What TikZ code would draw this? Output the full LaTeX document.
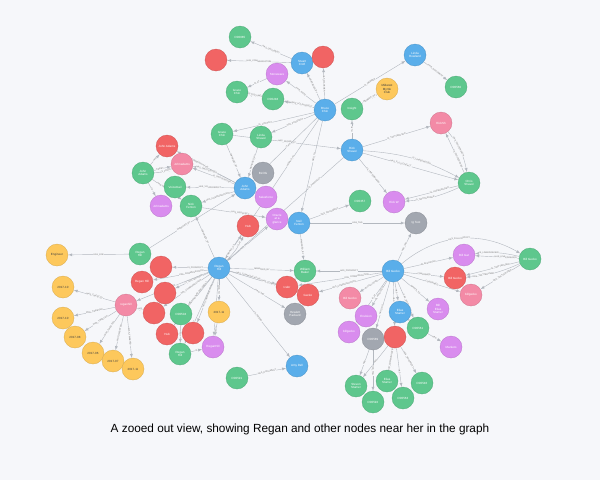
\documentclass[tikz,border=0pt]{standalone}
\usepackage{fontspec}
\setmainfont{Liberation Sans}
\usepackage{tikz}
\usetikzlibrary{positioning,arrows,backgrounds}
\definecolor{cbg}{HTML}{F6F7FA}
\definecolor{cedge}{HTML}{B3B8BF}
\definecolor{cblue}{HTML}{5AAEEA}
\definecolor{cgreen}{HTML}{5EC78D}
\definecolor{cred}{HTML}{F16464}
\definecolor{cpurple}{HTML}{D98CEE}
\definecolor{cpink}{HTML}{F38AA6}
\definecolor{cyellow}{HTML}{FDC85C}
\definecolor{cgray}{HTML}{A2A7B0}
\pgfdeclarelayer{back}
\pgfdeclarelayer{edges}
\pgfsetlayers{back,edges,main}
\begin{document}
\begin{tikzpicture}[x=1pt, y=-1pt,
  nd/.style={circle, minimum size=22pt, inner sep=0pt, align=center, text=white, line width=0.3pt, font=\fontsize{3}{3.4}\selectfont},
  nblue/.style={nd, fill=cblue, draw=cblue!85!black},
  ngreen/.style={nd, fill=cgreen, draw=cgreen!85!black},
  nred/.style={nd, fill=cred, draw=cred!85!black},
  npurple/.style={nd, fill=cpurple, draw=cpurple!85!black},
  npink/.style={nd, fill=cpink, draw=cpink!85!black},
  nyellow/.style={nd, fill=cyellow, draw=cyellow!85!black, text=black!75},
  ngray/.style={nd, fill=cgray, draw=cgray!85!black},
  ed/.style={draw=cedge, line width=0.4pt, -latex},
  lb/.style={midway, sloped, fill=cbg, inner sep=0.3pt, text=black!55, font=\fontsize{2.2}{2.5}\selectfont}]
\begin{pgfonlayer}{back}
\fill[cbg] (0,0) rectangle (600,480);
\end{pgfonlayer}
\useasboundingbox (0,0) rectangle (600,480);

\node[nblue] (bruce) at (325,110) {Bruce\\Chin};
\node[nblue] (stuart) at (302,63) {Stuart\\Croft};
\node[nblue] (linda) at (415,55) {Linda\\Rowland};
\node[nblue] (rick) at (352,150) {Rick\\Shavel};
\node[nblue] (john) at (245,188) {John\\Adams};
\node[nblue] (neil) at (299,223) {Neil\\Fenton};
\node[nblue] (regan) at (219,268) {Regan\\Hill};
\node[nblue] (bill) at (393,271) {Bill Gecko};
\node[nblue] (elias) at (400,312) {Elias\\Stamer};
\node[nblue] (amy) at (297,366) {Amy Dell};

\node[ngreen] (d1) at (240,37) {D00085};
\node[ngreen] (grace) at (237,92) {Grace\\Chin};
\node[ngreen] (d2) at (273,99) {D00248};
\node[ngreen] (grace2) at (222,134) {Grace\\Chin};
\node[ngreen] (linda2) at (261,137) {Linda\\Shavel};
\node[ngreen] (insight) at (352,109) {Insight};
\node[ngreen] (d3) at (456,87) {D00560};
\node[ngreen] (chris) at (469,183) {Chris\\Shavel};
\node[ngreen] (d4) at (360,201) {D00357};
\node[ngreen] (johna) at (143,173) {John\\Adams};
\node[ngreen] (voice) at (175,187) {Voicemail};
\node[ngreen] (nick) at (191,206) {Nick\\Fenton};
\node[ngreen] (reganh) at (140,254) {Regan\\Hill};
\node[ngreen] (d5) at (181,314) {D00504};
\node[ngreen] (regank) at (180,354) {Regan\\Hill};
\node[ngreen] (d6) at (237,378) {D00591};
\node[ngreen] (william) at (305,271) {William\\Baker};
\node[ngreen] (bill2) at (530,259) {Bill Gecko};
\node[ngreen] (d7) at (418,328) {D00561};
\node[ngreen] (steven) at (356,386) {Steven\\Stamer};
\node[ngreen] (elias2) at (387,381) {Elias\\Stamer};
\node[ngreen] (d8) at (422,383) {D00546};
\node[ngreen] (d9) at (373,402) {D00592};
\node[ngreen] (d10) at (403,398) {D00563};

\node[nred] (r1) at (216,60) {};
\node[nred] (r2) at (323,57) {};
\node[nred] (r3) at (167,146) {John Adams};
\node[nred] (r4) at (248,226) {Hub};
\node[nred] (r5) at (161,267) {};
\node[nred] (r6) at (142,282) {Regan Hill};
\node[nred] (r7) at (165,293) {};
\node[nred] (r8) at (154,313) {};
\node[nred] (r9) at (167,334) {Hub};
\node[nred] (r10) at (193,333) {};
\node[nred] (r11) at (287,287) {Icebr};
\node[nred] (r12) at (308,295) {Gecko};
\node[nred] (r13) at (455,278) {Bill Gecko};
\node[nred] (r14) at (395,337) {};

\node[npurple] (p1) at (277,74) {Stoneware};
\node[npurple] (p2) at (394,202) {Rick W};
\node[npurple] (p3) at (161,206) {Johnadams};
\node[npurple] (p4) at (266,197) {Salesforce};
\node[npurple] (p5) at (277,219) {Oracle\\at a\\glance};
\node[npurple] (p6) at (213,347) {ReganHill};
\node[npurple] (p7) at (464,255) {Bill Gat};
\node[npurple] (p8) at (438,309) {Bill\\Elias\\Stamer};
\node[npurple] (p9) at (366,316) {Envision};
\node[npurple] (p10) at (349,332) {billgecko};
\node[npurple] (p11) at (451,347) {Marketo};

\node[npink] (k1) at (182,164) {Johnadams};
\node[npink] (k2) at (441,123) {RickSh};
\node[npink] (k3) at (126,305) {reganhill};
\node[npink] (k4) at (350,298) {Bill Gecko};
\node[npink] (k5) at (471,295) {billgecko};

\node[nyellow] (y1) at (387,89) {Midwest\\Myrtle\\Club};
\node[nyellow] (y2) at (57,255) {Engineer};
\node[nyellow] (y3) at (63,287) {2017-10};
\node[nyellow] (y4) at (63,318) {2017-10};
\node[nyellow] (y5) at (75,337) {2017-08};
\node[nyellow] (y6) at (93,353) {2017-06};
\node[nyellow] (y7) at (113,361) {2017-07};
\node[nyellow] (y8) at (133,369) {2017-11};
\node[nyellow] (y9) at (219,312) {2017-11};

\node[ngray] (gr1) at (263,173) {BLOG};
\node[ngray] (gr2) at (416,223) {Ig Test};
\node[ngray] (gr3) at (295,314) {Hewlett\\Packard};
\node[ngray] (gr4) at (373,339) {D00589};

\node[font=\fontsize{11.8}{13}\selectfont] (cap) at (300,429) {A zooed out view, showing Regan and other nodes near her in the graph};

\begin{pgfonlayer}{edges}
\draw[ed] (stuart) -- (d1) node[lb] {HAS\_DOCUMENT};
\draw[ed] (stuart) -- (r1) node[lb] {HAS\_COMMUNICATION};
\draw[ed] (bruce) -- (stuart) node[lb] {MANAGED\_BY};
\draw[ed] (bruce) -- (r2) node[lb] {HAS\_MANAGER};
\draw[ed] (bruce) -- (p1) node[lb] {HAS\_NOTE};
\draw[ed] (p1) -- (grace) node[lb] {IS\_AT};
\draw[ed] (bruce) -- (grace) node[lb, pos=0.35] {WORKS\_AT};
\draw[ed] (bruce) -- (d2) node[lb, pos=0.4] {HAS\_VOLINTEREST};
\draw[ed] (d2) -- (grace) node[lb] {HAS\_DOCUMENT};
\draw[ed] (bruce) -- (grace2) node[lb, pos=0.6] {IS\_CONTACT};
\draw[ed] (bruce) -- (linda2) node[lb, pos=0.45] {HAS\_PROSPECT};
\draw[ed] (bruce) -- (linda) node[lb] {IS\_MEMBER};
\draw[ed] (insight) -- (y1) node[lb] {MEMBER\_OF};
\draw[ed] (linda) -- (d3) node[lb] {HAS\_DOCUMENT};
\draw[ed] (rick) -- (insight) node[lb] {IS\_IN};
\draw[ed] (rick) -- (k2) node[lb] {IS\_TWITTERUSER};
\draw[ed] (rick) -- (chris) node[lb, pos=0.4] {HAS\_FULLCONTACT};
\draw[ed] (rick) to[bend left=12] node[lb, pos=0.6] {IS\_LINKEDINUSER} (chris);
\draw[ed] (rick) -- (p2) node[lb] {IS\_LINKEDINUSER};
\draw[ed] (chris) -- (k2) node[lb, pos=0.35] {IS\_TWITTERUSER};
\draw[ed] (k2) to[bend left=14] node[lb, pos=0.4] {HAS\_TWITTERUSER} (chris);
\draw[ed] (chris) -- (p2) node[lb, pos=0.35] {IS\_LINKEDINUSER};
\draw[ed] (chris) to[bend left=10] node[lb, pos=0.65] {IS\_TWITTERUSER} (p2);
\draw[ed] (grace2) -- (rick) node[lb] {HAS\_PROSPECT};
\draw[ed] (bruce) -- (neil) node[lb, pos=0.4] {WAS\_TO};
\draw[ed] (bruce) -- (regan) node[lb, pos=0.3] {WORKS\_AT};
\draw[ed] (bruce) -- (john) node[lb, pos=0.45] {IS\_AT};
\draw[ed] (grace2) -- (john) node[lb] {MANAGED\_BY};
\draw[ed] (linda2) -- (john) node[lb] {MANAGED\_BY};

\draw[ed] (john) -- (r3) node[lb, pos=0.65] {HAS\_COMMUNICATION};
\draw[ed] (john) -- (k1) node[lb, pos=0.3] {IS\_TWITTERUSER};
\draw[ed] (john) to[bend right=8] node[lb, pos=0.7] {HAS\_TWITTERUSER} (k1);
\draw[ed] (john) -- (voice) node[lb] {HAS\_VOLPROSPECT};
\draw[ed] (john) -- (nick) node[lb] {HAS\_COMMUNICATION};
\draw[ed] (john) -- (gr1) node[lb] {HAS\_TAG};
\draw[ed] (john) -- (p4) node[lb] {IS\_AT};
\draw[ed] (johna) -- (r3) node[lb] {HAS};
\draw[ed] (johna) -- (k1) node[lb, pos=0.35] {TWEET};
\draw[ed] (johna) to[bend right=12] node[lb, pos=0.65] {IS\_FROM} (k1);
\draw[ed] (johna) -- (p3) node[lb] {IS};
\draw[ed] (johna) -- (nick) node[lb, pos=0.35] {HAS\_WORK};
\draw[ed] (reganh) -- (john) node[lb, pos=0.4] {MANAGED\_BY};
\draw[ed] (regan) -- (nick) node[lb] {MANAGED\_BY};
\draw[ed] (nick) -- (p5) node[lb, pos=0.6] {HAS\_PROSPECT};
\draw[ed] (regan) -- (r4) node[lb, pos=0.35] {WORKS\_AT};
\draw[ed] (regan) to[bend right=10] node[lb, pos=0.7] {IS\_AT} (r4);
\draw[ed] (regan) -- (p5) node[lb, pos=0.4] {HAS\_TO};
\draw[ed] (neil) -- (d4) node[lb] {HAS\_DOCUMENT};
\draw[ed] (neil) -- (gr2) node[lb] {HAS\_TAG};
\draw[ed] (neil) -- (william) node[lb] {MANAGED\_BY};
\draw[ed] (rick) -- (regan) node[lb, pos=0.25] {IS\_PROSPECT};

\draw[ed] (reganh) -- (y2) node[lb] {HAS\_JOB};
\draw[ed] (regan) -- (r5) node[lb, pos=0.35] {IS\_PROSPECT};
\draw[ed] (regan) -- (r6) node[lb, pos=0.3] {HAS\_COMMUNICATION};
\draw[ed] (regan) -- (r7) node[lb, pos=0.45] {IS\_TWITTERUSER};
\draw[ed] (regan) -- (k3) node[lb, pos=0.6] {HAS\_TWITTERUSER};
\draw[ed] (regan) -- (r8) node[lb, pos=0.4] {HAS\_COMMUNICATION};
\draw[ed] (regan) -- (d5) node[lb, pos=0.45] {HAS\_DOCUMENT};
\draw[ed] (regan) -- (y9) node[lb] {WAS\_TO};
\draw[ed] (regan) -- (r9) node[lb, pos=0.6] {HAS\_COMMUNICATION};
\draw[ed] (regan) -- (r10) node[lb, pos=0.4] {HAS\_COMMUNICATION};
\draw[ed] (regan) -- (regank) node[lb, pos=0.7] {IS\_AT};
\draw[ed] (regan) -- (p6) node[lb, pos=0.6] {IS\_TWITTERUSER};
\draw[ed] (regan) -- (william) node[lb] {MANAGED\_BY};
\draw[ed] (regan) -- (r11) node[lb, pos=0.4] {HAS\_COMMUNICATION};
\draw[ed] (regan) -- (r12) node[lb, pos=0.65] {HAS\_COMMUNICATION};
\draw[ed] (regan) -- (gr3) node[lb, pos=0.55] {HAS\_TAG};
\draw[ed] (regan) -- (amy) node[lb] {IS\_FRIEND};
\draw[ed] (k3) -- (y3) node[lb] {WAS\_TWEETED};
\draw[ed] (k3) -- (y4) node[lb] {WAS\_TWEETED};
\draw[ed] (k3) -- (y5) node[lb] {WAS\_TWEETED};
\draw[ed] (k3) -- (y6) node[lb] {WAS\_TWEETED};
\draw[ed] (k3) -- (y7) node[lb] {WAS\_TWEETED};
\draw[ed] (k3) -- (y8) node[lb] {WAS\_TWEETED};
\draw[ed] (k3) -- (r8) node[lb] {HAS};
\draw[ed] (d5) -- (regank) node[lb] {HAS};
\draw[ed] (y9) -- (p6) node[lb] {WAS};
\draw[ed] (regank) -- (p6) node[lb] {IS};
\draw[ed] (d6) -- (amy) node[lb] {HAS\_DOCUMENT};

\draw[ed] (bill) -- (gr2) node[lb] {HAS\_TAG};
\draw[ed] (bill) -- (william) node[lb] {HAS\_PROSPECT};
\draw[ed] (bill) -- (r11) node[lb, pos=0.3] {HAS\_COMMUNICATION};
\draw[ed] (bill) -- (r12) node[lb, pos=0.6] {HAS\_COMMUNICATION};
\draw[ed] (bill) -- (k4) node[lb] {BLACKLISTED};
\draw[ed] (william) -- (r11) node[lb] {IS};
\draw[ed] (bill) -- (p7) node[lb] {BLACKLISTED};
\draw[ed] (bill) -- (r13) node[lb] {CONFIRMED};
\draw[ed] (bill) -- (k5) node[lb] {CONFIRMED};
\draw[ed] (bill) -- (p8) node[lb] {WANTS\_TO};
\draw[ed] (bill) to[bend left=35] node[lb] {HAS\_FULLCONTACT} (bill2);
\draw[ed] (bill2) -- (p7) node[lb, pos=0.3] {HAS\_LINKEDINUSER};
\draw[ed] (bill2) to[bend right=10] node[lb, pos=0.7] {IS\_LINKEDINUSER} (p7);
\draw[ed] (bill2) -- (r13) node[lb, pos=0.35] {IS\_TWITTERUSER};
\draw[ed] (bill2) to[bend left=10] node[lb, pos=0.7] {HAS\_TWITTERUSER} (r13);
\draw[ed] (bill2) -- (k5) node[lb, pos=0.45] {HAS\_TWITTERUSER};
\draw[ed] (bill) -- (elias) node[lb] {HAS};
\draw[ed] (bill) -- (p9) node[lb] {BLACKLISTED};
\draw[ed] (bill) -- (p10) node[lb, pos=0.4] {IS\_AT};
\draw[ed] (bill) -- (gr4) node[lb, pos=0.6] {HAS\_TAG};
\draw[ed] (bill) -- (r14) node[lb, pos=0.4] {HAS};
\draw[ed] (bill) -- (d7) node[lb, pos=0.6] {HAS\_DOCUMENT};
\draw[ed] (elias) -- (d7) node[lb] {HAS};
\draw[ed] (d7) -- (p11) node[lb] {HAS};
\draw[ed] (r14) -- (steven) node[lb] {HAS};
\draw[ed] (r14) -- (elias2) node[lb] {HAS\_COMMUNICATION};
\draw[ed] (r14) -- (d8) node[lb] {HAS\_DOCUMENT};
\draw[ed] (r14) -- (d10) node[lb, pos=0.6] {HAS};
\draw[ed] (gr4) -- (steven) node[lb] {HAS};
\draw[ed] (gr4) -- (d9) node[lb] {HAS\_TAG};
\end{pgfonlayer}
\end{tikzpicture}
\end{document}
